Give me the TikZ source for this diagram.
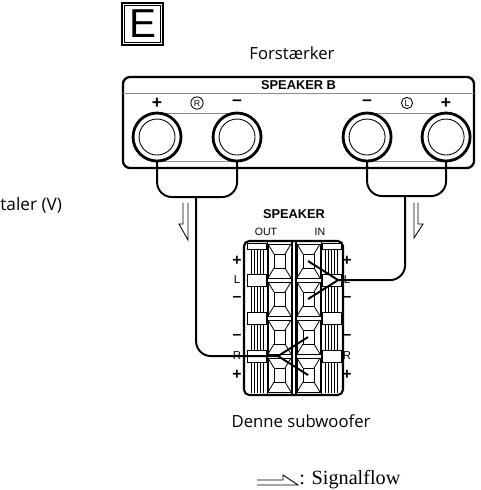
\documentclass[tikz,border=0pt]{standalone}
\usepackage{fontspec}
\setmainfont{Open Sans}
\newfontfamily\helv{Liberation Sans}
\newfontfamily\legfont{Liberation Serif}

\tikzset{
  wire/.style={line width=1.1pt, rounded corners=8.5pt},
  guide/.style={draw=black!45, line width=0.5pt},
  ampjack/.style={fill=white, line width=1.6pt},
  flowarrow/.style={line width=0.5pt, line join=miter},
  frame/.style={line width=0.45pt},
  pole/.style={font=\helv\bfseries\fontsize{10}{10}\selectfont, inner sep=0pt},
  side/.style={font=\helv\fontsize{6.5}{7}\selectfont, inner sep=0pt},
  ringed/.style={draw, circle, line width=0.5pt, inner sep=0.7pt, font=\helv\fontsize{5}{5}\selectfont},
}

\begin{document}
\begin{tikzpicture}[xscale=0.02, yscale=-0.02]
        \useasboundingbox (0,0) rectangle (480,490);
        % letter box
        \draw[line width=1.2pt] (122,3) rectangle (163,45);
        \draw[line width=0.35pt] (124.5,5.5) rectangle (160.5,42.5);
        \node[font=\helv\fontsize{23}{23}\selectfont] (boxE) at (142.5,24) {E};
        \node[font=\fontsize{9.5}{11}\selectfont] (amp) at (292,53) {Forstærker};
        \node[anchor=west, font=\fontsize{9.8}{11}\selectfont, inner sep=0pt] (spk) at (0,205) {taler (V)};
        % amplifier panel
        \draw[line width=1.3pt, rounded corners=4pt] (123,77) rectangle (474,168);
        \draw[guide] (123,93) -- (474,93);
        \node[font=\helv\bfseries\fontsize{7.3}{8}\selectfont] (spkB) at (298.5,85) {SPEAKER B};
        \coordinate (Rp) at (157,137);
        \coordinate (Rm) at (237,137);
        \coordinate (Lm) at (367,137);
        \coordinate (Lp) at (446,137);
        \draw[guide] (157,113) -- (237,113);
        \draw[guide] (157,161) -- (237,161);
        \draw[guide] (367,113) -- (446,113);
        \draw[guide] (367,161) -- (446,161);
        \node[pole] (pRp) at (157,103) {+};
        \node[ringed] (cR) at (197,103) {R};
        \node[pole] (pRm) at (237,103) {–};
        \node[pole] (pLm) at (367,103) {–};
        \node[ringed] (cL) at (407,103) {L};
        \node[pole] (pLp) at (446,103) {+};
        % subwoofer terminal block
        \node[font=\helv\bfseries\fontsize{7.3}{8}\selectfont] (sub) at (294,214) {SPEAKER};
        \node[font=\helv\fontsize{6}{7}\selectfont] (out) at (266,232) {OUT};
        \node[font=\helv\fontsize{6}{7}\selectfont] (in) at (320,232) {IN};
        \draw[line width=1.2pt, rounded corners=3pt] (244,241) rectangle (343,395);
        \draw[line width=0.8pt] (292,241) -- (292,395);
        \draw[line width=0.8pt] (296,241) -- (296,395);
        \draw[frame] (267,242) -- (267,394);
        \draw[frame] (321,242) -- (321,394);
        \foreach \x in {251,254,257,260,263} {
            \draw[frame] (\x,243) -- (\x,393);
            \draw[frame] (\x+74,243) -- (\x+74,393);
        }
        \foreach \y in {280,318,356} {
            \draw[frame, fill=white] (247,\y-6) rectangle (266,\y+6);
            \draw[frame, fill=white] (322,\y-6) rectangle (341,\y+6);
        }
        \draw[frame, fill=white] (247,243) rectangle (266,249);
        \draw[frame, fill=white] (322,243) rectangle (341,249);
        \foreach \r in {0,1,2,3} {
            \pgfmathsetmacro{\ya}{242+38*\r+2}
            \pgfmathsetmacro{\yb}{242+38*(\r+1)-2}
            \foreach \xa/\xb in {268/291, 297/320} {
                \draw[frame] (\xa,\ya) rectangle (\xb,\yb);
                \draw[frame] (\xa+6,\ya+10) rectangle (\xb-6,\yb-10);
                \draw[frame] (\xa,\ya) -- (\xa+6,\ya+10);
                \draw[frame] (\xb,\ya) -- (\xb-6,\ya+10);
                \draw[frame] (\xa,\yb) -- (\xa+6,\yb-10);
                \draw[frame] (\xb,\yb) -- (\xb-6,\yb-10);
            }
        }
        \foreach \x in {237,347} {
            \node[pole, font=\helv\bfseries\fontsize{9}{9}\selectfont] at (\x,261) {+};
            \node[side] at (\x,280) {L};
            \node[pole, font=\helv\bfseries\fontsize{9}{9}\selectfont] at (\x,299) {–};
            \node[pole, font=\helv\bfseries\fontsize{9}{9}\selectfont] at (\x,337) {–};
            \node[side] at (\x,356) {R};
            \node[pole, font=\helv\bfseries\fontsize{9}{9}\selectfont] at (\x,375) {+};
        }
        \coordinate (inLp) at (308,261);
        \coordinate (inLm) at (308,299);
        \coordinate (inRm) at (308,337);
        \coordinate (inRp) at (308,375);
        \coordinate (jL) at (338,280);
        \coordinate (jR) at (278,356);
        % wires
        \coordinate (dropR) at (196,197);
        \coordinate (dropL) at (405,196);
        \draw[wire] (Rp) -- (Rp |- dropR) -- (Rm |- dropR) -- (Rm);
        \draw[wire] (Lm) -- (Lm |- dropL) -- (Lp |- dropL) -- (Lp);
        \draw[wire] (dropR) |- (jR);
        \draw[wire] (dropL) |- (jL);
        \draw[line width=1.1pt] (jR) -- (inRm);
        \draw[line width=1.1pt] (jR) -- (inRp);
        \draw[line width=1.1pt] (jL) -- (inLp);
        \draw[line width=1.1pt] (jL) -- (inLm);
        \foreach \t in {Rp,Rm,Lm,Lp} {
            \draw[ampjack] (\t) circle (24);
            \draw[line width=0.5pt] (\t) circle (18);
        }
        % signal flow
        \draw[flowarrow] (183,203) -- (183,224) -- (179,224) -- (188,240) -- (188,203);
        \draw[flowarrow] (418,203) -- (418,224) -- (423,224) -- (414,238) -- (414,203);
        \node[font=\fontsize{9.5}{11}\selectfont] (woofer) at (301,421) {Denne subwoofer};
        \draw[flowarrow] (257,480) -- (283,480) -- (283,475) -- (298,485) -- (257,485);
        \node[anchor=base west, font=\legfont\fontsize{11.5}{12}\selectfont, inner sep=0pt] (legtxt) at (299,484) {: Signalflow};
\end{tikzpicture}
\end{document}
